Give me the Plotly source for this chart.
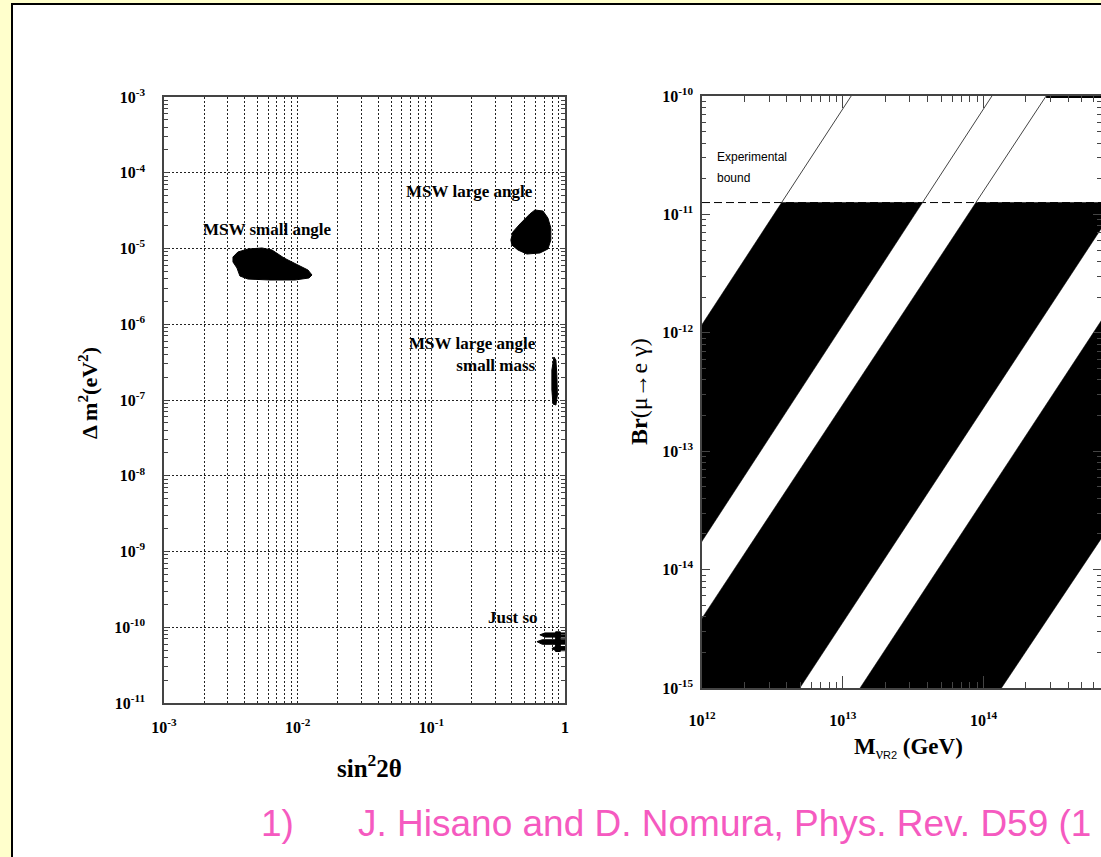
import plotly.graph_objects as go

W, H = 1101, 857

# ---------------- Left panel data (log10 values) ----------------
# MSW small angle region
sa_logx = [-2.484, -2.447, -2.372, -2.267, -2.192, -2.102, -1.998, -1.923, -1.893,
           -1.915, -2.020, -2.207, -2.372, -2.432, -2.454, -2.484]
sa_logy = [-5.112, -5.046, -5.007, -4.993, -5.020, -5.125, -5.218, -5.284, -5.350,
           -5.389, -5.416, -5.416, -5.403, -5.363, -5.257, -5.178]
# MSW large angle region
la_logx = [-0.405, -0.390, -0.337, -0.263, -0.225, -0.165, -0.128, -0.106, -0.106,
           -0.128, -0.188, -0.285, -0.352, -0.397]
la_logy = [-4.888, -4.782, -4.676, -4.544, -4.492, -4.505, -4.597, -4.729, -4.888,
           -5.007, -5.059, -5.073, -5.020, -4.954]
# MSW large angle, small mass region
low_logx = [-0.083, -0.068, -0.061, -0.057, -0.068, -0.090, -0.098, -0.098]
low_logy = [-6.432, -6.472, -6.670, -6.934, -7.066, -7.053, -6.868, -6.604]
# Just so (streaks)
js1_logx = [-0.188, -0.150, 0.0, 0.0, -0.150]
js1_logy = [-10.10, -10.075, -10.075, -10.13, -10.13]
js2_logx = [-0.210, -0.170, 0.0, 0.0, -0.170]
js2_logy = [-10.19, -10.165, -10.165, -10.225, -10.225]
js3_logx = [-0.098, -0.070, 0.0, 0.0, -0.070]
js3_logy = [-10.28, -10.255, -10.255, -10.31, -10.31]
js4_logx = [-0.070, -0.035, -0.035, -0.070]
js4_logy = [-10.06, -10.06, -10.32, -10.32]

left_regions = [(sa_logx, sa_logy), (la_logx, la_logy), (low_logx, low_logy),
                (js1_logx, js1_logy), (js2_logx, js2_logy), (js3_logx, js3_logy),
                (js4_logx, js4_logy)]

left_xticks = [1e-3, 1e-2, 1e-1, 1]
left_xtext = ["10<sup>-3</sup>", "10<sup>-2</sup>", "10<sup>-1</sup>", "1"]
left_yexp = [-11, -10, -9, -8, -7, -6, -5, -4, -3]

# ---------------- Right panel data (log10 M, log10 Br) ----------------
bound_logBr = -10.9            # experimental bound
L1_logM = [12.0, 13.06];  L1_logBr = [-11.93, -10.0]
L2_logM = [12.0, 14.06];  L2_logBr = [-13.76, -10.0]
L3_logM = [12.0, 14.445]; L3_logBr = [-14.41, -10.0]
L4_logM = [12.695, 14.66]; L4_logBr = [-15.0, -11.44]
L5_logM = [13.123, 14.70]; L5_logBr = [-15.0, -12.145]
L6_logM = [14.128, 14.83]; L6_logBr = [-15.0, -13.75]
# bands: (upper-left edge, lower-right edge)
bands = [((L1_logM, L1_logBr), (L2_logM, L2_logBr)),
         ((L3_logM, L3_logBr), (L4_logM, L4_logBr)),
         ((L5_logM, L5_logBr), (L6_logM, L6_logBr))]

right_xexp = [12, 13, 14]
right_yexp = [-15, -14, -13, -12, -11, -10]
right_xrange = [12, 14.835]


def x_at(edge, ylog):
    (xs, ys) = edge
    return xs[0] + (ylog - ys[0]) * (xs[1] - xs[0]) / (ys[1] - ys[0])


def p(v):
    return [10 ** t for t in v]


fig = go.Figure()

# left panel regions
for lx, ly in left_regions:
    fig.add_trace(go.Scatter(x=p(lx + lx[:1]), y=p(ly + ly[:1]), mode="lines",
                             fill="toself", fillcolor="black",
                             line=dict(color="black", width=1),
                             xaxis="x", yaxis="y", showlegend=False, hoverinfo="skip"))

# right panel: experimental bound dashed line
fig.add_trace(go.Scatter(x=p(right_xrange), y=p([bound_logBr, bound_logBr]), mode="lines",
                         line=dict(color="black", width=1, dash="8px,4px"),
                         xaxis="x2", yaxis="y2", showlegend=False, hoverinfo="skip"))

# right panel: black bands below the bound
for up, lo in bands:
    bx = [x_at(lo, -16), x_at(lo, bound_logBr), x_at(up, bound_logBr), x_at(up, -16)]
    by = [-16, bound_logBr, bound_logBr, -16]
    fig.add_trace(go.Scatter(x=p(bx + bx[:1]), y=p(by + by[:1]), mode="lines",
                             fill="toself", fillcolor="black",
                             line=dict(color="black", width=0.5),
                             xaxis="x2", yaxis="y2", showlegend=False, hoverinfo="skip"))

# right panel: thin band edges above the bound
for edge in [(L1_logM, L1_logBr), (L2_logM, L2_logBr)]:
    ex = [x_at(edge, bound_logBr), x_at(edge, -10)]
    fig.add_trace(go.Scatter(x=p(ex), y=p([bound_logBr, -10]), mode="lines",
                             line=dict(color="#444", width=1),
                             xaxis="x2", yaxis="y2", showlegend=False, hoverinfo="skip"))
# band 2 outline above bound (runs along the top)
e3 = (L3_logM, L3_logBr); e4 = (L4_logM, L4_logBr)
ox = [x_at(e3, bound_logBr), x_at(e3, -10), x_at(e4, -10), x_at(e4, bound_logBr)]
oy = [bound_logBr, -10, -10, bound_logBr]
fig.add_trace(go.Scatter(x=p(ox[:2]), y=p(oy[:2]), mode="lines",
                         line=dict(color="#444", width=1),
                         xaxis="x2", yaxis="y2", showlegend=False, hoverinfo="skip"))
fig.add_trace(go.Scatter(x=p(ox[1:]), y=p(oy[1:]), mode="lines",
                         line=dict(color="black", width=4),
                         xaxis="x2", yaxis="y2", showlegend=False, hoverinfo="skip"))

tickfont = dict(family="Liberation Serif", size=16, color="black", weight="bold")
axcol = "#444"
gridstyle = dict(showgrid=True, gridcolor="#222", gridwidth=1, griddash="2px,2px")

minor_left_x = [m * 10.0 ** e for e in range(-3, 0) for m in range(2, 10)]
minor_left_y = [m * 10.0 ** e for e in range(-11, -3) for m in range(2, 10)]
minor_right_x = [m * 10.0 ** e for e in range(12, 15) for m in range(2, 10)]
minor_right_y = [m * 10.0 ** e for e in range(-15, -10) for m in range(2, 10)]

# panel pixel geometry
lx0, lx1, ly0, ly1 = 164, 565, 97, 703
rx0, ry0, ry1 = 702, 96, 688

common = dict(automargin=False, zeroline=False, showline=True, linecolor=axcol, linewidth=1.5)

fig.update_layout(
    width=W, height=H, margin=dict(l=0, r=0, t=0, b=0, pad=0, autoexpand=False), autosize=False,
    paper_bgcolor="white", plot_bgcolor="white",
    showlegend=False,
    xaxis=dict(type="log", range=[-3, 0], domain=[lx0 / W, lx1 / W], anchor="y",
               tickmode="array", tickvals=left_xticks, ticktext=left_xtext,
               ticks="", tickfont=tickfont, ticklabelstandoff=9, mirror=True,
               minor=dict(tickmode="array", tickvals=minor_left_x, ticks="",
                          showgrid=True, gridcolor="#222", gridwidth=1, griddash="2px,2px"),
               **gridstyle, **common),
    yaxis=dict(type="log", range=[-11, -3], domain=[1 - ly1 / H, 1 - ly0 / H], anchor="x",
               tickmode="array", tickvals=[10.0 ** e for e in left_yexp],
               ticktext=[f"10<sup>{e}</sup>" for e in left_yexp],
               ticks="inside", ticklen=5, tickcolor=axcol, tickfont=tickfont,
               ticklabelstandoff=14, mirror="allticks",
               minor=dict(tickmode="array", tickvals=minor_left_y, ticks="inside", ticklen=4,
                          tickcolor=axcol, showgrid=False),
               **gridstyle, **common),
    xaxis2=dict(type="log", range=right_xrange, domain=[rx0 / W, 1], anchor="y2",
                tickmode="array", tickvals=[10.0 ** e for e in right_xexp],
                ticktext=[f"10<sup>{e}</sup>" for e in right_xexp],
                ticks="inside", ticklen=12, tickcolor=axcol, tickfont=tickfont,
                ticklabelstandoff=17, mirror="allticks", showgrid=False,
                minor=dict(tickmode="array", tickvals=minor_right_x, ticks="inside", ticklen=6,
                           tickcolor=axcol, showgrid=False),
                **common),
    yaxis2=dict(type="log", range=[-15, -10], domain=[1 - ry1 / H, 1 - ry0 / H], anchor="x2",
                tickmode="array", tickvals=[10.0 ** e for e in right_yexp],
                ticktext=[f"10<sup>{e}</sup>" for e in right_yexp],
                ticks="inside", ticklen=8, tickcolor=axcol, tickfont=tickfont,
                ticklabelstandoff=4, mirror="allticks", showgrid=False,
                minor=dict(tickmode="array", tickvals=minor_right_y, ticks="inside", ticklen=4,
                           tickcolor=axcol, showgrid=False),
                **common),
)

# slide background: yellow strips + black frame
fig.add_shape(type="rect", xref="paper", yref="paper", x0=0, x1=11 / W, y0=0, y1=1,
              fillcolor="#FFFFCC", line=dict(width=0), layer="below")
fig.add_shape(type="rect", xref="paper", yref="paper", x0=0, x1=1, y0=1 - 3 / H, y1=1,
              fillcolor="#FFFFCC", line=dict(width=0), layer="below")
fig.add_shape(type="line", xref="paper", yref="paper", x0=12 / W, x1=12 / W, y0=0, y1=1 - 3 / H,
              line=dict(color="black", width=2))
fig.add_shape(type="line", xref="paper", yref="paper", x0=11 / W, x1=1, y0=1 - 4 / H, y1=1 - 4 / H,
              line=dict(color="black", width=2))

serif_b = dict(family="Liberation Serif", size=17, color="black")


def ann(text, x, y, xref="paper", yref="paper", xanchor="center", yanchor="middle", **kw):
    fig.add_annotation(text=text, x=x, y=y, xref=xref, yref=yref, showarrow=False,
                       xanchor=xanchor, yanchor=yanchor, **kw)


# left panel region labels
ann("<b>MSW small angle</b>", -2.222, -4.743, "x", "y", font=serif_b)
ann("<b>MSW large angle</b>", -0.715, -4.241, "x", "y", font=serif_b)
ann("<b>MSW large angle<br>small mass</b>", -0.203, -6.393, "x", "y", font=serif_b,
    xanchor="right", align="right")
ann("<b>Just so</b>", -0.390, -9.865, "x", "y", font=serif_b)

# axis titles
ann("<b>Δ m<sup>2</sup>(eV<sup>2</sup>)</b>", 88 / W, 1 - 393 / H, textangle=-90,
    font=dict(family="Liberation Serif", size=22, color="black"))
ann("<b>sin<sup>2</sup>2θ</b>", 369 / W, 1 - 766 / H,
    font=dict(family="Liberation Serif", size=25, color="black"))
ann("<b>Br</b>(μ→e γ)", 639 / W, 1 - 392 / H, textangle=-90,
    font=dict(family="Liberation Serif", size=24, color="black"))
ann("<b>M</b><sub>ν<span style='font-size:11px;font-family:Liberation Sans'>R2</span></sub>"
    " <b>(GeV)</b>", 908 / W, 1 - 748 / H,
    font=dict(family="Liberation Serif", size=23, color="black"))

# experimental bound label
ann("Experimental", 715 / W, 1 - 157 / H, xanchor="left",
    font=dict(family="Liberation Sans", size=12, color="black"))
ann("bound", 715 / W, 1 - 178 / H, xanchor="left",
    font=dict(family="Liberation Sans", size=12, color="black"))

# citation (the slide is cropped at the right edge of the picture)
pink = "#F55AC0"
ann("1)", 277 / W, 1 - 823 / H, font=dict(family="Liberation Sans", size=37, color=pink))
ann("J. Hisano and D. Nomura, Phys. Rev. D59 (1", 356 / W, 1 - 823 / H,
    xanchor="left", font=dict(family="Liberation Sans", size=37, color=pink))

post = ("document.body.style.margin='0';document.body.style.padding='0';"
        "document.documentElement.style.overflow='hidden';")
fig.write_html("out.html", config={"responsive": False, "displayModeBar": False},
               post_script=post)
